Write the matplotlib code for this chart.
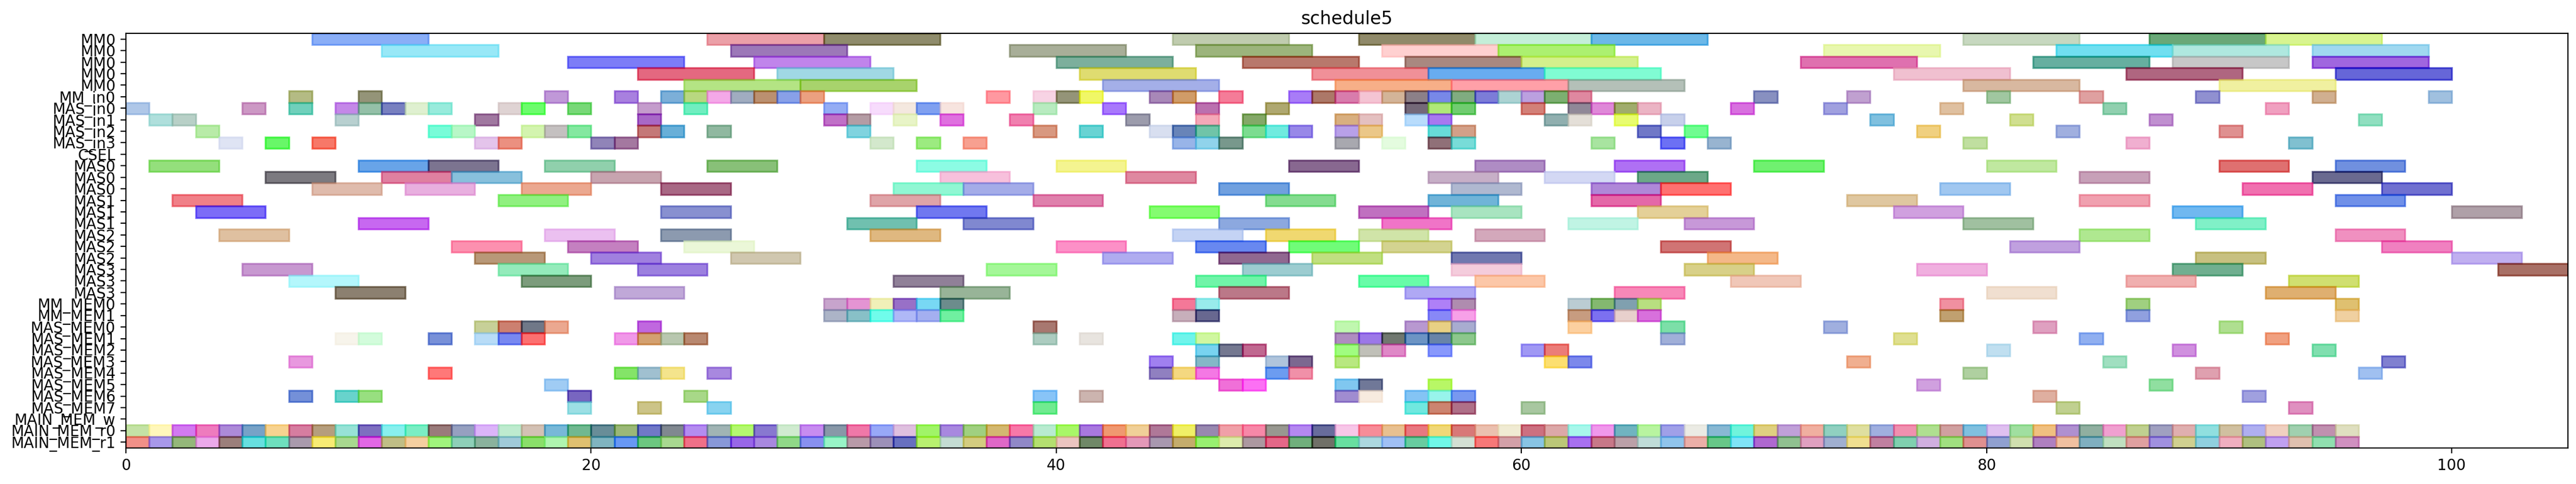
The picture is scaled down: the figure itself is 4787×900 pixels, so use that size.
import matplotlib
matplotlib.use("Agg")
import matplotlib.pyplot as plt
from matplotlib.colors import to_rgb

title = "schedule5"
row_labels = ["MM0", "MM0", "MM0", "MM0", "MM0", "MM_in0",
              "MAS_in0", "MAS_in1", "MAS_in2", "MAS_in3", "CSEL",
              "MAS0", "MAS0", "MAS0", "MAS1", "MAS1", "MAS1",
              "MAS2", "MAS2", "MAS2", "MAS3", "MAS3", "MAS3",
              "MM_MEM0", "MM_MEM1",
              "MAS_MEM0", "MAS_MEM1", "MAS_MEM2", "MAS_MEM3",
              "MAS_MEM4", "MAS_MEM5", "MAS_MEM6", "MAS_MEM7",
              "MAIN_MEM_w", "MAIN_MEM_r0", "MAIN_MEM_r1"]
x_max = 105

# long tasks: (start, duration, observed colour)
mm0_rows = [
    [(8, 5, "#8aaef8"), (25, 5, "#eca0a8"), (30, 5, "#8f8c6c"), (45, 5, "#c0ccb0"),
     (53, 5, "#908a6a"), (58, 5, "#c4eed8"), (63, 5, "#6cb8e8"), (79, 5, "#c8d8c0"),
     (87, 5, "#6aa878"), (92, 5, "#d8f490")],
    [(11, 5, "#98e8f8"), (26, 5, "#9c78b8"), (38, 5, "#a8ae98"), (46, 5, "#9cb47c"),
     (54, 5, "#ffd0d0"), (59, 5, "#acf070"), (73, 5, "#e8f8b0"), (83, 5, "#70e0f0"),
     (88, 5, "#b0e8e0"), (94, 5, "#a0d8f0")],
    [(19, 5, "#7c7cf8"), (27, 5, "#c084ec"), (40, 5, "#7cb09c"), (48, 5, "#b8786c"),
     (55, 5, "#aa8880"), (60, 5, "#d4f08c"), (72, 5, "#e070b0"), (82, 5, "#60b0a0"),
     (88, 5, "#c8c8c8"), (94, 5, "#a060e0")],
    [(22, 5, "#e46880"), (28, 5, "#a0d8e4"), (41, 5, "#e0dc70"), (51, 5, "#f09098"),
     (56, 5, "#68acf0"), (61, 5, "#80fcd4"), (76, 5, "#f0c0d0"), (86, 5, "#b04880"),
     (95, 5, "#6060d8")],
    [(24, 5, "#b4e484"), (29, 5, "#a8d46c"), (42, 5, "#a4b0e8"), (52, 5, "#f8b088"),
     (57, 5, "#ffa0a8"), (62, 5, "#b4c0b8"), (79, 5, "#d8b8a0"), (90, 5, "#f0f0a0")],
]

# one-slot tasks: (start, observed colour)
mm_in0_row = [(7, "#b4bc84"), (10, "#949478"), (18, "#c098d8"), (21, "#a880e0"),
              (23, "#7cb0d8"), (24, "#b8d880"), (25, "#f4a8e8"), (26, "#a0acc0"),
              (27, "#bc9070"), (28, "#88a0e8"), (29, "#eca080"), (37, "#ff98a0"),
              (39, "#f8d4e4"), (40, "#949478"), (41, "#f0f860"), (44, "#a888b8"),
              (45, "#d09c68"), (47, "#f47c98"), (50, "#a87cf8"), (51, "#ac7868"),
              (52, "#d87cac"), (53, "#f4c4d4"), (54, "#d4b498"), (55, "#8c8088"),
              (56, "#7888e8"), (57, "#80ac80"), (58, "#7c7cd8"), (59, "#acd4d4"),
              (60, "#bca0e0"), (61, "#7cb070"), (62, "#e088a0"), (70, "#8890c0"),
              (74, "#c0a0d0"), (80, "#a0c8a0"), (84, "#e0a0a0"), (89, "#9090d0"),
              (94, "#d0b090"), (99, "#a0c0e0")]

mas_in_rows = [
    [(0, "#b0c8e8"), (5, "#cc98c4"), (7, "#70d0bc"), (9, "#c488e8"), (10, "#94c0a8"),
     (11, "#7880c0"), (12, "#e0f0d0"), (13, "#98ecdc"), (16, "#e0d4d4"), (17, "#6cfc6c"),
     (19, "#78d878"), (22, "#c49ccc"), (24, "#70eec0"), (30, "#94acf4"), (32, "#f8dcfc"),
     (33, "#f4e8e0"), (34, "#80a0f0"), (35, "#f8e4e0"), (39, "#b8ecc0"), (42, "#a878fc"),
     (46, "#bc70b0"), (49, "#b0a870"), (55, "#746878"), (56, "#b0e878"), (57, "#70cc70"),
     (60, "#d48078"), (62, "#908898"), (63, "#e088d8"), (64, "#a0ac6c"), (65, "#ecb4c4"),
     (69, "#d870e0"), (73, "#a0a0e0"), (78, "#e0c0a0"), (85, "#90d0b0"), (92, "#f0a0c0")],
    [(1, "#b0e0dc"), (2, "#b8d0c8"), (9, "#b8d0d0"), (15, "#a078a0"), (22, "#a868c8"),
     (30, "#c070c8"), (31, "#b49ca4"), (33, "#e8f4c8"), (35, "#e070e0"), (38, "#f080b0"),
     (43, "#9c9cac"), (46, "#f4a8b8"), (48, "#84a868"), (52, "#d8b080"), (53, "#e4c0c0"),
     (55, "#b8dcfc"), (56, "#a878f0"), (61, "#90b0b0"), (62, "#e4e0d8"), (64, "#e8fc70"),
     (66, "#c8d0ec"), (75, "#80c0e0"), (81, "#d0e090"), (87, "#c090d0"), (96, "#90e0c0")],
    [(3, "#b8eca8"), (13, "#78fcd8"), (14, "#b8f8c8"), (17, "#d4f4b0"), (18, "#c4c0c0"),
     (19, "#84e8a0"), (22, "#c47878"), (23, "#68b0d8"), (25, "#90b8a0"), (31, "#80d4e0"),
     (39, "#d89880"), (41, "#68d4d4"), (44, "#d8e0f0"), (45, "#6884b8"), (46, "#70c4a8"),
     (48, "#7cdc90"), (49, "#70ece0"), (50, "#9888e8"), (52, "#b8a0e8"), (53, "#ecc888"),
     (56, "#68dcd8"), (57, "#d4a088"), (65, "#7078c8"), (67, "#70fc90"), (77, "#f0d080"),
     (83, "#a0b0e0"), (90, "#e09090")],
    [(4, "#e0e4f4"), (6, "#68f868"), (8, "#f87868"), (15, "#e4c4ec"), (16, "#ec9080"),
     (20, "#9084b8"), (21, "#a478a0"), (32, "#d4e8cc"), (34, "#9cec80"), (36, "#f8a090"),
     (45, "#98b4e8"), (46, "#90d4ec"), (47, "#78988c"), (52, "#a8a8b0"), (54, "#e4fce0"),
     (56, "#907078"), (57, "#78dcd8"), (63, "#a8e4a0"), (66, "#6c70f4"), (68, "#98b4d0"),
     (79, "#c0e0a0"), (86, "#f0b0d0"), (93, "#80c0d0")],
]
csel_row = []

mas_rows = [
    [(1, 3, "#94e07c"), (10, 3, "#68a4e8"), (13, 3, "#7c7490"), (18, 3, "#90d0ac"),
     (25, 3, "#88c078"), (34, 3, "#8cfce4"), (40, 3, "#f4f490"), (50, 3, "#886890"),
     (58, 3, "#b08cc4"), (64, 3, "#b070f4"), (70, 3, "#70f070"), (80, 3, "#c0e8a0"),
     (90, 3, "#e07070"), (95, 3, "#7090e0")],
    [(6, 3, "#7c7a80"), (11, 3, "#e080a0"), (14, 3, "#88c0dc"), (20, 3, "#c8a4b0"),
     (35, 3, "#f8c0dc"), (43, 3, "#e088a0"), (56, 3, "#c8b0c8"), (61, 3, "#d4d8f4"),
     (65, 3, "#6ca888"), (84, 3, "#c8a0b8"), (94, 3, "#6a6a90")],
    [(8, 3, "#e0bcac"), (12, 3, "#e8b0e0"), (17, 3, "#eca890"), (23, 3, "#a86884"),
     (33, 3, "#90f8d4"), (36, 3, "#a4ace8"), (47, 3, "#70a0e0"), (57, 3, "#b0b8d0"),
     (63, 3, "#b088d8"), (66, 3, "#ff7070"), (78, 3, "#a0c8f0"), (91, 3, "#f070b0"),
     (97, 3, "#7070d0")],
    [(2, 3, "#f08088"), (16, 3, "#90f080"), (32, 3, "#e0a4a8"), (39, 3, "#e080ac"),
     (49, 3, "#84dc90"), (56, 3, "#70b4d8"), (63, 3, "#e468a8"), (74, 3, "#e0c8a0"),
     (84, 3, "#f0a0b0"), (95, 3, "#7090e8")],
    [(3, 3, "#7c6cf8"), (23, 3, "#8890d0"), (34, 3, "#7078f0"), (44, 3, "#84fc70"),
     (53, 3, "#c070c0"), (57, 3, "#a8e4c0"), (65, 3, "#e4d098"), (76, 3, "#d0a0e0"),
     (88, 3, "#70b8f0"), (100, 3, "#b0a0a8")],
    [(10, 3, "#c868f0"), (31, 3, "#70c0b0"), (36, 3, "#8088d0"), (47, 3, "#8ca8e0"),
     (54, 3, "#f074c8"), (62, 3, "#c0f4e4"), (67, 3, "#c898d8"), (79, 3, "#a0c0a0"),
     (89, 3, "#80f0c8")],
    [(4, 3, "#e0c0a0"), (18, 3, "#ecc0f0"), (23, 3, "#8c9ab0"), (32, 3, "#e0b880"),
     (45, 3, "#c4d4f4"), (49, 3, "#f0d870"), (53, 3, "#d0e4a8"), (58, 3, "#d4a8bc"),
     (84, 3, "#b0e890"), (95, 3, "#f090c0")],
    [(14, 3, "#fc90b0"), (19, 3, "#c480c0"), (24, 3, "#ecf8d8"), (40, 3, "#fc90c8"),
     (46, 3, "#6888f0"), (50, 3, "#70fc78"), (54, 3, "#d4d490"), (66, 3, "#d07474"),
     (81, 3, "#c0a0e0"), (97, 3, "#f080c0")],
    [(15, 3, "#b89878"), (20, 3, "#a080e0"), (26, 3, "#d0c8b0"), (42, 3, "#b0acf0"),
     (47, 3, "#906890"), (51, 3, "#c0e080"), (57, 3, "#7078b0"), (68, 3, "#f4b888"),
     (89, 3, "#c8c080"), (100, 3, "#c0b0f0")],
    [(5, 3, "#c898d0"), (16, 3, "#94ecbc"), (22, 3, "#9c80e0"), (37, 3, "#a4f898"),
     (48, 3, "#9cccd0"), (57, 3, "#f4ccdc"), (67, 3, "#d8d088"), (77, 3, "#f0b0e0"),
     (88, 3, "#70b090"), (102, 3, "#a87060")],
    [(7, 3, "#b4f8fc"), (17, 3, "#7c9c7c"), (33, 3, "#908098"), (46, 3, "#70f4a8"),
     (53, 3, "#68fca8"), (58, 3, "#fcc8a8"), (69, 3, "#f0c8b8"), (86, 3, "#f0b0b0"),
     (93, 3, "#d0e070")],
    [(9, 3, "#8c8070"), (21, 3, "#c0a8d8"), (35, 3, "#98b498"), (47, 3, "#bc7888"),
     (55, 3, "#b0a8f4"), (64, 3, "#f888b8"), (80, 3, "#f0e0d0"), (92, 3, "#e0b070")],
]

mm_mem_rows = [
    [(30, "#c8a4cc"), (31, "#e494d4"), (32, "#f0f0b8"), (33, "#9870c8"), (34, "#78d8f4"),
     (35, "#6c8c8c"), (45, "#f47898"), (46, "#98ecec"), (56, "#b080f8"), (57, "#b08cb0"),
     (62, "#bcccd4"), (63, "#84b870"), (64, "#80a0b0"), (65, "#b8e080"), (78, "#f090a0"),
     (86, "#a0d080"), (95, "#e0c070")],
    [(30, "#acb4c8"), (31, "#88c0c8"), (32, "#70fcec"), (33, "#b0b8f8"), (34, "#a4b0f0"),
     (35, "#70f0a0"), (45, "#c8b0bc"), (46, "#686890"), (56, "#8888f8"), (57, "#f8a0e8"),
     (62, "#c89c80"), (63, "#7c70f0"), (64, "#e8d0cc"), (65, "#d870dc"), (78, "#c0a070"),
     (86, "#90a0e0"), (95, "#f0d0a0")],
]

mas_mem_rows = [
    [(15, "#c8d098"), (16, "#cc8070"), (17, "#707888"), (18, "#eca890"), (22, "#c068e0"),
     (39, "#a87870"), (52, "#c0f8b0"), (55, "#b898d0"), (56, "#e8d084"), (57, "#a8acd0"),
     (62, "#fcd0a0"), (66, "#7ce0a8"), (73, "#a0b0e0"), (82, "#e0a0c0"), (90, "#b0e090")],
    [(9, "#f8f4ec"), (10, "#d4fcdc"), (13, "#7890d8"), (15, "#b8dcf8"), (16, "#7888f0"),
     (17, "#fc7070"), (21, "#f098e8"), (22, "#d4a070"), (23, "#b8c8b0"), (24, "#b88870"),
     (39, "#acccc0"), (41, "#e8e4e0"), (45, "#70f4ec"), (46, "#d0f8a0"), (52, "#b08cc0"),
     (53, "#9c78e8"), (54, "#707870"), (55, "#6c94c4"), (56, "#6884a8"), (57, "#8cc88c"),
     (66, "#a0b0d8"), (76, "#e0e090"), (84, "#90b0f0"), (92, "#f0a080")],
    [(46, "#78d4f0"), (47, "#747890"), (48, "#c06890"), (52, "#a0fc80"), (53, "#c0c0b8"),
     (54, "#e088c8"), (56, "#8898fc"), (60, "#a098f4"), (61, "#ec7c78"), (80, "#c0e0f0"),
     (88, "#d090e0"), (94, "#80e0b0")],
    [(7, "#e898e0"), (44, "#a080f0"), (46, "#84b8c8"), (49, "#b0c4dc"), (50, "#7c6890"),
     (52, "#b8e880"), (61, "#fce070"), (62, "#7c88ec"), (74, "#f0b090"), (85, "#a0e0c0"),
     (97, "#8080d0")],
    [(13, "#ff7878"), (21, "#84e468"), (22, "#a0c0d0"), (23, "#f4e48c"), (25, "#a888e0"),
     (44, "#9080c0"), (45, "#f4d880"), (46, "#f478e4"), (49, "#6c9cf0"), (50, "#f090a8"),
     (79, "#b0d0a0"), (89, "#e0a0b0"), (96, "#a0c0f0")],
    [(18, "#a0ccf4"), (47, "#f070d8"), (48, "#fc70f4"), (52, "#80c8f0"), (53, "#707898"),
     (56, "#b8f860"), (77, "#d0a0e0"), (87, "#90e0a0")],
    [(7, "#7490d8"), (9, "#68d4cc"), (10, "#98e080"), (19, "#7860c0"), (24, "#a8d888"),
     (39, "#88c4f8"), (41, "#ccb4b0"), (52, "#a08cd0"), (53, "#f8ece0"), (55, "#84c4f4"),
     (56, "#98f4ec"), (57, "#7898f0"), (82, "#e0b0a0"), (91, "#a0a0e0")],
    [(19, "#9ce0e4"), (22, "#ccc488"), (25, "#88d4f0"), (39, "#70ec90"), (55, "#70e8e0"),
     (56, "#cc8470"), (57, "#b07088"), (60, "#a8c8a0"), (83, "#c0d090"), (93, "#e090c0")],
]
main_w_row = []

# consecutive one-slot reads, starting at time 0
main_r0_colors = [
    "#c5e3a5", "#fff7bb", "#d27af0", "#ee7bbf", "#ad8ad8", "#77a2c8", "#f8d490", "#d67da0",
    "#b69e7d", "#97e3d6", "#7e6fc0", "#88f0ee", "#7aeec4", "#9a7b7b", "#96a0c0", "#dcb4f9",
    "#bfeccf", "#d4c2b4", "#78b8d8", "#70b890", "#688d98", "#9bb878", "#7078c8", "#808890",
    "#b48cf0", "#a0b4b4", "#b4f870", "#8878d0", "#d0ecd0", "#c88cf0", "#8898a8", "#f078a8",
    "#98a8f8", "#e0c0e0", "#a0f468", "#a888e0", "#a0d080", "#d4b870", "#f878a8", "#b8ecd0",
    "#a8f868", "#a878e0", "#f09870", "#f0d098", "#b07898", "#f0f060", "#9888b0", "#f0a0a8",
    "#f888a8", "#989890", "#b488f0", "#686c9c", "#f8c8e8", "#f88c98", "#e8c090", "#e87880",
    "#f0d878", "#d87878", "#ecc0b0", "#f0ecd4", "#cc7080", "#dca8a8", "#a8f8ec", "#f098ec",
    "#70b4c0", "#b8f4a0", "#a0a0e8", "#ececE4", "#88b8d4", "#70f4dc", "#e0d080",
    "#c0a0d8", "#f0b0a0", "#90d0c0", "#e0e0a0", "#a0b0e0", "#f090b0", "#b0e090", "#d0a0a0",
    "#80c0e0", "#e0c0f0", "#a0e0a0", "#f0c080", "#b090d0", "#90b0a0", "#f0a0d0", "#c0d090",
    "#a0a0c0", "#e0b0b0", "#90e0e0", "#d0c0a0", "#b0b0f0", "#f0d0c0", "#a0d0b0", "#c090b0",
    "#e0e0c0"]
main_r1_colors = [
    "#f29088", "#a898ea", "#94b77a", "#ecaaea", "#9b7f7b", "#67dfdf", "#6ee0bf", "#a99aac",
    "#f8ec74", "#a8d88f", "#e268e6", "#c0be86", "#f5cfa0", "#a0f57d", "#8ecfb8", "#8ab39d",
    "#a0cbd8", "#8ae06a", "#b0f4b0", "#e0c070", "#80b4c0", "#6898f4", "#6cc880", "#a8d890",
    "#f07088", "#8898d8", "#9860e8", "#a888e0", "#90d888", "#8890f0", "#98f4c8", "#b89aa8",
    "#9c90b8", "#6870c0", "#b8f070", "#c4dcd4", "#d4cc80", "#e068c8", "#9088c8", "#b4e070",
    "#ecc4c0", "#708868", "#f07090", "#e498b8", "#a898b0", "#c4ac6c", "#98f070", "#dcecac",
    "#ac98a0", "#e46888", "#70b07c", "#707068", "#68e0a0", "#acd8e0", "#a0c0f4", "#68cca0",
    "#70f8e8", "#d4e0d4", "#f87878", "#d4a0a8", "#88c4e4", "#bcc878", "#a870f0", "#c87888",
    "#bca0a8", "#c0dcd8", "#90c4ec", "#ecb0a8", "#68c888", "#80e4f8", "#b068d0",
    "#90c090", "#e0a0c0", "#a0b0d0", "#f0e090", "#c080a0", "#80d0b0", "#d0b0e0", "#a0e080",
    "#e09090", "#90a0d0", "#d0e0b0", "#b080c0", "#f0c0a0", "#80b0c0", "#c0e0c0", "#e0a0a0",
    "#a090e0", "#d0d090", "#90d0e0", "#f0b0c0", "#b0c080", "#c0a0f0", "#e0c0b0", "#90e0b0",
    "#d090c0"]

ALPHA = 0.6


def base_color(observed):
    # colour that, drawn with ALPHA over white, gives the observed tint
    return tuple(min(1.0, max(0.0, 1 - (1 - v) / ALPHA)) for v in to_rgb(observed))


fig = plt.figure(figsize=(4787 / 200, 900 / 200), dpi=200)
ax = fig.add_axes([234 / 4787, 1 - 833 / 900, (4772 - 234) / 4787, (833 - 62) / 900])


def draw(row, start, dur, col):
    c = base_color(col)
    ax.barh(row, dur, left=start, height=1.0, color=c, alpha=ALPHA,
            edgecolor=c, linewidth=1.2)


row = 0
for tasks in mm0_rows:
    for s, d, c in tasks:
        draw(row, s, d, c)
    row += 1
for s, c in mm_in0_row:
    draw(row, s, 1, c)
row += 1
for tasks in mas_in_rows:
    for s, c in tasks:
        draw(row, s, 1, c)
    row += 1
for s, c in csel_row:
    draw(row, s, 1, c)
row += 1
for tasks in mas_rows:
    for s, d, c in tasks:
        draw(row, s, d, c)
    row += 1
for tasks in mm_mem_rows:
    for s, c in tasks:
        draw(row, s, 1, c)
    row += 1
for tasks in mas_mem_rows:
    for s, c in tasks:
        draw(row, s, 1, c)
    row += 1
for s, c in main_w_row:
    draw(row, s, 1, c)
row += 1
for s, c in enumerate(main_r0_colors):
    draw(row, s, 1, c)
row += 1
for s, c in enumerate(main_r1_colors):
    draw(row, s, 1, c)

ax.set_yticks(range(len(row_labels)))
ax.set_yticklabels(row_labels)
ax.set_ylim(len(row_labels) - 0.5, -0.5)
ax.set_xlim(0, x_max)
ax.set_title(title)
fig.savefig("out.png", dpi=200)
